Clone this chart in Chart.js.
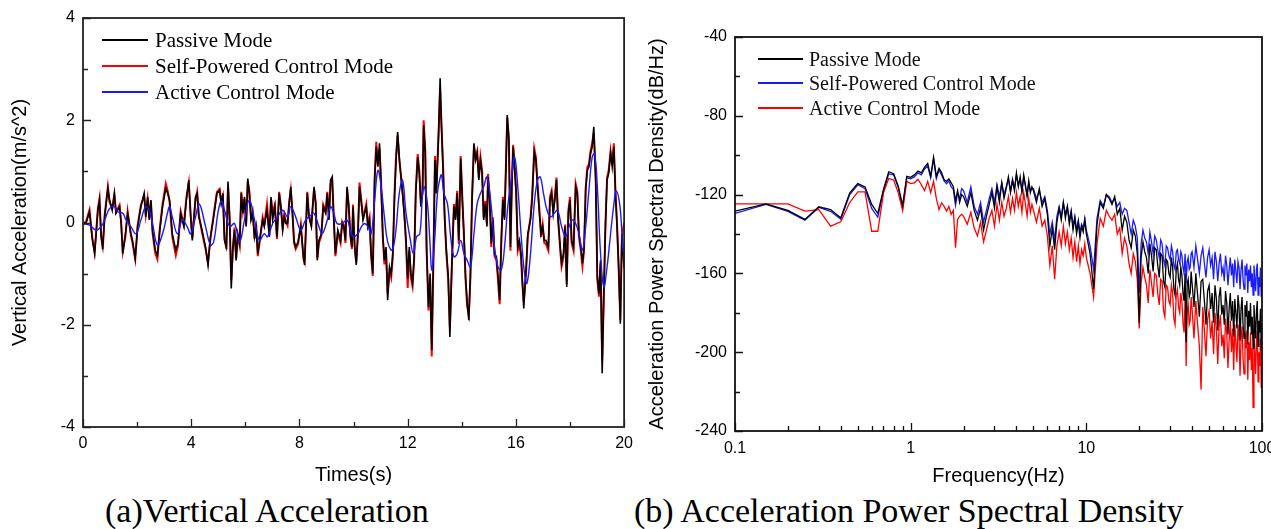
<!DOCTYPE html>
<html>
<head>
<meta charset="utf-8">
<script src="https://cdn.jsdelivr.net/npm/chart.js@4.4.1/dist/chart.umd.min.js"></script>
<style>
  html, body { margin:0; padding:0; background:#fff; }
  body { width:1271px; height:529px; overflow:hidden; position:relative; }
  canvas { position:absolute; top:0; }
  .lg { position:absolute; font-family:"Liberation Serif", serif; color:#000; white-space:nowrap; }
  .lg .row { position:absolute; left:0; height:0; }
  .lg .ln { position:absolute; top:-1px; height:2px; }
  .lg .tx { position:absolute; transform:translateY(-50%); line-height:1; }
  .cap { position:absolute; top:493px; font-family:"Liberation Serif", serif; font-size:34px; line-height:36px; color:#000; white-space:nowrap; }
</style>
</head>
<body>
<canvas id="c1" width="640" height="490" style="left:0"></canvas>
<canvas id="c2" width="660" height="490" style="left:640px"></canvas>

<div class="lg" style="left:102px;top:0;font-size:21px">
  <div class="row" style="top:40px"><div class="ln" style="left:0;width:46px;background:#000"></div><div class="tx" style="left:53px">Passive Mode</div></div>
  <div class="row" style="top:66px"><div class="ln" style="left:0;width:46px;background:#ff0000"></div><div class="tx" style="left:53px">Self-Powered Control Mode</div></div>
  <div class="row" style="top:92px"><div class="ln" style="left:0;width:46px;background:#1a1aff"></div><div class="tx" style="left:53px">Active Control Mode</div></div>
</div>

<div class="lg" style="left:758px;top:0;font-size:20px;color:#111">
  <div class="row" style="top:59px"><div class="ln" style="left:0;width:45px;background:#000"></div><div class="tx" style="left:51px">Passive Mode</div></div>
  <div class="row" style="top:83px"><div class="ln" style="left:0;width:45px;background:#1a1aff"></div><div class="tx" style="left:51px">Self-Powered Control Mode</div></div>
  <div class="row" style="top:108px"><div class="ln" style="left:0;width:45px;background:#ff0000"></div><div class="tx" style="left:51px">Active Control Mode</div></div>
</div>

<div class="cap" style="left:105px">(a)Vertical Acceleration</div>
<div class="cap" style="left:634px">(b) Acceleration Power Spectral Density</div>

<script>
// ---------------- (a) time histories ----------------
const passiveT = [
  0, 0.12, 0.24, 0.34, 0.43, 0.55, 0.61, 0.67, 0.73, 0.80,
  0.92, 0.98, 1.08, 1.16, 1.22, 1.35, 1.41, 1.47, 1.57, 1.65,
  1.77, 1.83, 1.93, 2.02, 2.14, 2.26, 2.32, 2.39, 2.45, 2.51,
  2.57, 2.67, 2.75, 2.84, 2.94, 3.06, 3.13, 3.20, 3.30, 3.43,
  3.51, 3.61, 3.73, 3.82, 3.91, 3.98, 4.04, 4.16, 4.22, 4.28,
  4.40, 4.53, 4.62, 4.71, 4.83, 4.95, 5.05, 5.11, 5.17, 5.23,
  5.30, 5.36, 5.42, 5.48, 5.54, 5.60, 5.66, 5.72, 5.79, 5.85,
  5.91, 5.97, 6.03, 6.09, 6.15, 6.21, 6.27, 6.34, 6.40, 6.46,
  6.56, 6.64, 6.70, 6.80, 6.89, 6.95, 7.01, 7.09, 7.17, 7.25,
  7.31, 7.38, 7.44, 7.50, 7.56, 7.62, 7.68, 7.74, 7.80, 7.86,
  7.95, 8.05, 8.15, 8.19, 8.29, 8.35, 8.44, 8.54, 8.60, 8.66,
  8.72, 8.81, 8.88, 8.97, 9.03, 9.09, 9.15, 9.21, 9.27, 9.33,
  9.42, 9.52, 9.58, 9.64, 9.70, 9.76, 9.82, 9.88, 9.94, 9.98,
  10.04, 10.10, 10.16, 10.22, 10.29, 10.35, 10.41, 10.47, 10.53, 10.59,
  10.65, 10.71, 10.78, 10.84, 10.90, 10.96, 11.02, 11.08, 11.14, 11.20,
  11.26, 11.33, 11.39, 11.45, 11.51, 11.57, 11.63, 11.69, 11.75, 11.81,
  11.88, 11.94, 12.00, 12.06, 12.12, 12.18, 12.24, 12.30, 12.37, 12.43,
  12.49, 12.55, 12.59, 12.65, 12.70, 12.77, 12.83, 12.89, 12.95, 13.01,
  13.06, 13.14, 13.20, 13.25, 13.31, 13.37, 13.43, 13.50, 13.56, 13.63,
  13.71, 13.77, 13.83, 13.89, 13.96, 14.02, 14.08, 14.14, 14.20, 14.26,
  14.32, 14.38, 14.45, 14.51, 14.57, 14.63, 14.69, 14.75, 14.81, 14.87,
  14.93, 14.97, 15.03, 15.09, 15.15, 15.21, 15.28, 15.34, 15.40, 15.46,
  15.52, 15.58, 15.64, 15.68, 15.74, 15.80, 15.85, 15.90, 15.95, 16.01,
  16.07, 16.13, 16.19, 16.24, 16.29, 16.38, 16.44, 16.54, 16.60, 16.68,
  16.74, 16.80, 16.87, 16.93, 16.99, 17.05, 17.11, 17.20, 17.26, 17.32,
  17.38, 17.44, 17.50, 17.56, 17.64, 17.69, 17.76, 17.82, 17.88, 17.94,
  18.00, 18.06, 18.13, 18.21, 18.27, 18.33, 18.40, 18.46, 18.52, 18.58,
  18.64, 18.70, 18.76, 18.82, 18.88, 18.95, 19.01, 19.07, 19.13, 19.19,
  19.25, 19.31, 19.37, 19.43, 19.50, 19.56, 19.62, 19.68, 19.74, 19.80,
  19.86, 19.92, 20.00
];
const passiveV = [
  -0.02, 0.00, 0.21, -0.31, -0.61, 0.24, 0.44, -0.28, -0.48, 0.11,
  0.67, 0.44, 0.24, 0.57, 0.18, 0.31, -0.02, -0.61, -0.22, 0.18,
  -0.22, -0.35, -0.70, -0.08, 0.31, 0.57, 0.11, 0.50, 0.05, 0.44,
  -0.15, -0.54, -0.64, -0.15, 0.31, 0.67, 0.57, 0.44, -0.22, -0.54,
  -0.41, 0.18, -0.08, 0.44, 0.83, 0.11, -0.35, 0.50, 0.57, 0.11,
  -0.15, -0.48, -0.83, -0.28, 0.11, 0.57, 0.63, 0.37, 0.57, -0.35,
  -0.48, 0.80, 0.05, -1.29, -0.48, -0.15, -0.74, -0.22, -0.41, 0.57,
  0.18, 0.50, -0.08, 0.86, 0.57, 0.05, 0.18, -0.28, -0.08, -0.61,
  -0.22, 0.05, -0.08, 0.24, -0.28, 0.50, 0.05, 0.31, -0.28, 0.57,
  0.31, -0.15, 0.11, -0.02, -0.02, 0.37, 0.70, 0.18, -0.35, -0.48,
  -0.38, -0.08, -0.67, -0.83, 0.57, 0.11, -0.08, 0.70, 0.37, -0.74,
  -0.35, -0.22, 0.31, 0.18, 0.57, 0.05, 0.83, 0.89, 0.05, -0.61,
  -0.15, -0.35, -0.02, -0.08, -0.35, 0.70, 0.31, -0.22, -0.48, 0.31,
  -0.48, -0.83, -0.22, 0.70, 0.37, 0.05, 0.18, 0.31, -0.08, 0.05,
  -0.61, -1.00, 0.83, 1.48, 1.09, 1.55, 0.70, -0.22, -0.74, -0.48,
  -1.52, -0.87, -1.00, -0.61, 0.44, 1.22, 1.77, 1.28, 0.89, 0.57,
  0.11, -0.35, -1.10, -0.48, -1.00, -1.19, -0.67, 0.57, 1.28, 0.96,
  0.31, 0.57, 1.90, 1.35, -0.48, -1.65, -1.00, -2.50, -0.74, 1.22,
  0.57, 1.68, 2.82, 1.87, 1.02, 0.05, -0.54, -1.06, -2.24, -0.87,
  0.31, 0.05, 0.57, -0.35, 1.25, 0.44, -0.22, -1.06, -1.58, -1.91,
  -1.00, 0.44, 1.55, 1.22, 1.35, 0.83, 1.22, 0.96, 0.05, 0.37,
  -0.08, 0.89, 0.44, -0.41, 0.05, -0.61, -0.67, -1.06, -1.52, -0.35,
  0.44, 0.05, 1.22, 2.10, 1.61, -0.48, 0.70, 1.48, 1.09, 0.57,
  -0.48, -0.35, -0.61, -1.13, -1.68, -0.87, -0.22, 0.05, 0.44, 1.38,
  1.22, 0.70, 0.18, -0.22, -0.08, -0.35, -0.35, -0.48, 0.44, 0.57,
  0.18, 0.44, 0.83, 0.05, -0.48, -0.80, -0.61, -0.08, -1.26, 0.18,
  0.44, -0.35, -0.48, 0.70, 0.57, -0.22, -0.48, -0.80, -0.48, 0.63,
  1.02, 1.09, 1.35, 1.48, 1.87, 0.83, -1.06, -1.39, -0.74, -2.95,
  -1.39, -0.08, 0.83, 0.96, 1.35, 1.09, 1.48, 0.57, -0.08, -0.87,
  -1.98, -0.22, -0.90
];
const selfV = [
  -0.05, 0.03, 0.25, -0.28, -0.58, 0.27, 0.47, -0.25, -0.52, 0.14,
  0.70, 0.40, 0.28, 0.55, 0.20, 0.34, 0.02, -0.57, -0.26, 0.22,
  -0.25, -0.40, -0.72, -0.05, 0.34, 0.53, 0.15, 0.46, 0.08, 0.42,
  -0.20, -0.60, -0.72, -0.10, 0.36, 0.76, 0.62, 0.40, -0.28, -0.64,
  -0.45, 0.22, -0.04, 0.48, 0.78, 0.15, -0.30, 0.46, 0.60, 0.16,
  -0.20, -0.52, -0.78, -0.32, 0.16, 0.60, 0.66, 0.40, 0.52, -0.30,
  -0.52, 0.72, 0.10, -1.12, -0.52, -0.10, -0.70, -0.26, -0.45, 0.60,
  0.22, 0.46, -0.04, 0.80, 0.60, 0.10, 0.22, -0.32, -0.04, -0.66,
  -0.26, 0.10, -0.04, 0.36, -0.24, 0.46, 0.20, 0.35, -0.32, 0.60,
  0.35, -0.10, 0.16, 0.02, -0.06, 0.40, 0.64, 0.22, -0.40, -0.52,
  -0.42, -0.04, -0.72, -0.78, 0.60, 0.15, -0.04, 0.66, 0.40, -0.70,
  -0.40, -0.26, 0.35, 0.22, 0.60, 0.10, 0.75, 0.85, 0.10, -0.66,
  -0.20, -0.40, 0.02, -0.04, -0.40, 0.66, 0.35, -0.26, -0.52, 0.35,
  -0.44, -0.78, -0.26, 0.78, 0.42, 0.10, 0.22, 0.36, -0.04, 0.10,
  -0.66, -1.05, 0.88, 1.58, 1.14, 1.45, 0.76, -0.28, -0.82, -0.55,
  -1.40, -0.95, -1.08, -0.68, 0.50, 1.30, 1.70, 1.22, 0.95, 0.62,
  0.16, -0.42, -1.28, -0.55, -1.08, -1.25, -0.72, 0.62, 1.34, 1.02,
  0.36, 0.62, 2.00, 1.42, -0.55, -1.72, -1.08, -2.62, -0.80, 1.30,
  0.62, 1.72, 2.60, 1.92, 1.08, 0.10, -0.60, -1.12, -2.05, -0.92,
  0.36, 0.10, 0.62, -0.42, 1.30, 0.50, -0.28, -1.12, -1.64, -1.80,
  -1.08, 0.50, 1.50, 1.28, 1.40, 0.88, 1.28, 1.02, 0.10, 0.42,
  -0.04, 0.95, 0.50, -0.48, 0.10, -0.66, -0.74, -1.12, -1.60, -0.42,
  0.50, 0.10, 1.28, 2.05, 1.66, -0.55, 0.76, 1.52, 1.14, 0.62,
  -0.55, -0.42, -0.68, -1.20, -1.55, -0.95, -0.28, 0.10, 0.50, 1.45,
  1.28, 0.76, 0.24, -0.28, -0.04, -0.40, -0.42, -0.55, 0.50, 0.62,
  0.24, 0.50, 0.88, 0.10, -0.55, -0.86, -0.68, -0.04, -1.20, 0.24,
  0.50, -0.40, -0.55, 0.76, 0.62, -0.28, -0.55, -0.86, -0.55, 0.68,
  1.08, 1.14, 1.40, 1.55, 1.75, 0.88, -1.12, -1.45, -0.80, -2.70,
  -1.45, -0.04, 0.88, 1.02, 1.40, 1.14, 1.55, 0.62, -0.04, -0.92,
  -1.90, -0.28, 0.00
];
const activeT = [
  0, 0.24, 0.49, 0.67, 0.80, 0.98, 1.16, 1.28, 1.47, 1.59,
  1.77, 1.96, 2.14, 2.32, 2.45, 2.57, 2.75, 2.94, 3.12, 3.20,
  3.30, 3.49, 3.67, 3.85, 3.98, 4.16, 4.30, 4.53, 4.71, 4.83,
  4.99, 5.11, 5.23, 5.42, 5.60, 5.79, 5.97, 6.15, 6.34, 6.52,
  6.70, 6.82, 7.01, 7.19, 7.38, 7.56, 7.68, 7.86, 8.05, 8.23,
  8.42, 8.54, 8.72, 8.84, 9.03, 9.15, 9.27, 9.39, 9.58, 9.76,
  9.88, 9.98, 10.16, 10.29, 10.41, 10.53, 10.65, 10.78, 10.90, 11.02,
  11.14, 11.26, 11.42, 11.55, 11.69, 11.81, 11.94, 12.08, 12.21, 12.33,
  12.45, 12.55, 12.61, 12.73, 12.82, 12.89, 12.98, 13.10, 13.18, 13.25,
  13.34, 13.47, 13.59, 13.71, 13.83, 13.96, 14.08, 14.20, 14.32, 14.45,
  14.57, 14.69, 14.81, 14.93, 15.09, 15.21, 15.34, 15.46, 15.58, 15.70,
  15.83, 15.95, 16.07, 16.19, 16.32, 16.41, 16.54, 16.68, 16.80, 16.90,
  17.02, 17.15, 17.29, 17.42, 17.54, 17.69, 17.84, 17.97, 18.09, 18.21,
  18.33, 18.46, 18.58, 18.70, 18.82, 18.91, 19.01, 19.13, 19.25, 19.37,
  19.50, 19.62, 19.71, 19.85, 19.95, 20.00
];
const activeV = [
  -0.02, -0.05, -0.15, -0.08, 0.05, 0.27, 0.31, 0.21, 0.18, 0.05,
  -0.08, -0.22, 0.05, 0.31, 0.24, -0.02, -0.44, -0.22, 0.18, 0.31,
  0.11, -0.22, 0.05, -0.08, -0.22, 0.11, 0.36, -0.08, -0.44, -0.38,
  0.20, 0.42, 0.24, -0.08, -0.02, -0.38, 0.05, 0.44, 0.05, -0.35,
  -0.22, -0.28, -0.02, 0.11, 0.24, 0.11, 0.31, 0.11, -0.15, 0.05,
  0.14, 0.18, -0.08, -0.22, 0.05, 0.31, 0.18, -0.02, -0.02, 0.05,
  -0.15, -0.28, -0.22, -0.08, -0.02, -0.08, -0.22, 0.44, 1.02, 0.70,
  0.11, -0.38, -0.54, -0.22, 0.57, 0.83, 0.18, -0.28, -0.61, -0.28,
  -0.22, 0.57, 0.70, 0.37, -0.35, -0.93, -0.48, 0.57, 0.83, 0.93,
  0.57, 0.37, -0.28, -0.67, -0.61, -0.35, -0.61, -0.74, -0.87, -0.22,
  0.37, 0.57, 0.70, 0.89, 0.31, -0.48, -0.87, -0.93, -0.48, 0.31,
  0.83, 1.28, 0.70, -0.22, -1.00, -1.19, -0.61, 0.37, 0.83, 0.89,
  0.57, 0.24, 0.11, 0.18, 0.24, -0.08, -0.28, -0.08, 0.05, -0.02,
  -0.22, -0.54, -0.08, 0.63, 1.28, 1.35, 0.70, -0.61, -1.26, -0.87,
  -0.22, 0.35, 0.62, 0.30, -0.50, -0.65
];
const timeMajorTicks = [0, 4, 8, 12, 16, 20];
const timeMinorTicks = [2, 6, 10, 14, 18];
const accMajorTicks = [-4, -2, 0, 2, 4];
const accMinorTicks = [-3, -1, 1, 3];

// ---------------- (b) power spectral density ----------------
const freqHz = [
  0.10, 0.15, 0.20, 0.25, 0.30, 0.35, 0.40, 0.45, 0.50, 0.55,
  0.60, 0.65, 0.70, 0.75, 0.80, 0.85, 0.90, 0.95, 1.00, 1.05,
  1.10, 1.15, 1.20, 1.25, 1.30, 1.35, 1.40, 1.45, 1.50, 1.55,
  1.60, 1.65, 1.70, 1.75, 1.80, 1.85, 1.90, 1.95,
  2.0, 2.1, 2.2, 2.3, 2.4, 2.5, 2.6, 2.7, 2.8, 2.9,
  3.0, 3.1, 3.2, 3.3, 3.4, 3.5, 3.6, 3.7, 3.8, 3.9,
  4.0, 4.1, 4.2, 4.3, 4.4, 4.5, 4.6, 4.7, 4.8, 4.9,
  5.0, 5.2, 5.4, 5.6, 5.8, 6.0, 6.2, 6.4, 6.6, 6.8,
  7.0, 7.2, 7.4, 7.6, 7.8, 8.0, 8.2, 8.4, 8.6, 8.8,
  9.0, 9.2, 9.4, 9.6, 9.8,
  10, 10.5, 11, 11.5, 12, 12.5, 13, 13.5, 14, 14.5,
  15, 15.5, 16, 16.5, 17, 17.5, 18, 18.5, 19, 19.5,
  20, 20.5, 21, 21.5, 22, 22.5, 23, 23.5, 24, 24.5,
  25, 25.5, 26, 26.5, 27, 27.5, 28, 28.5, 29, 29.5,
  30, 30.5, 31, 31.5, 32, 32.5, 33, 33.5, 34, 34.5,
  35, 35.5, 36, 36.5, 37, 37.5, 38, 38.5, 39, 39.5,
  40, 41, 42, 43, 44, 45, 46, 47, 48, 49,
  50, 51, 52, 53, 54, 55, 56, 57, 58, 59,
  60, 61, 62, 63, 64, 65, 66, 67, 68, 69,
  70, 71, 72, 73, 74, 75, 76, 77, 78, 79,
  80, 81, 82, 83, 84, 85, 86, 87, 88, 89,
  90, 91, 92, 93, 94, 95, 96, 97, 98, 99,
  100
];
const passivePSD = [
  -128.4, -124.7, -128.0, -132.6, -126.2, -127.6, -131.8, -119.1, -114.4, -116.1,
  -125.0, -129.6, -117.4, -108.4, -109.4, -115.7, -125.5, -110.7, -111.2, -110.0,
  -108.1, -109.0, -106.0, -104.2, -110.7, -101.0, -110.7, -106.6, -108.8, -112.4,
  -113.3, -112.0, -114.0, -116.0, -123.3, -118.0, -124.0, -120.0,
  -121, -126, -119, -128, -133, -127, -138, -131, -125, -119,
  -127, -116, -124, -114, -122, -117, -111, -119, -113, -118,
  -109, -116, -111, -119, -110, -115, -121, -113, -119, -116,
  -118, -124, -117, -126, -122, -130, -146, -137, -148, -134,
  -127, -133, -124, -132, -126, -135, -129, -138, -132, -140,
  -134, -142, -136, -139, -133,
  -140, -150, -168, -135, -124, -127, -120, -122, -125, -121,
  -130, -127, -138, -131, -134, -143, -147, -138, -141, -150,
  -185, -152, -144, -149, -152, -160, -145, -151, -159, -147,
  -148, -156, -162, -150, -151, -164, -167, -153, -154, -160,
  -162, -152, -157, -168, -171, -158, -155, -163, -166, -157,
  -161, -170, -174, -160, -195, -165, -163, -172, -170, -159,
  -165, -177, -160, -171, -182, -164, -163, -174, -186, -169,
  -166, -178, -170, -185, -166, -173, -189, -172, -167, -181,
  -176, -186, -169, -175, -191, -178, -170, -184, -174, -192,
  -173, -180, -188, -171, -177, -194, -178, -172, -186, -193,
  -176, -182, -174, -196, -179, -187, -175, -191, -182, -198,
  -176, -185, -193, -179, -174, -197, -184, -190, -178, -199,
  -186
];
const selfPSD = [
  -129.5, -125.0, -128.5, -133.0, -126.5, -128.5, -132.5, -120.0, -115.0, -117.0,
  -127.0, -131.5, -118.5, -109.5, -110.0, -116.5, -127.0, -111.5, -112.0, -111.0,
  -109.0, -110.0, -107.0, -105.5, -111.5, -102.0, -112.0, -107.5, -110.0, -113.0,
  -114.5, -113.0, -116.0, -117.5, -125.5, -119.0, -122.0, -117.0,
  -118, -124, -116, -126, -130, -124, -134, -128, -122, -117,
  -124, -115, -121, -114, -120, -116, -112, -118, -112, -117,
  -110, -115, -112, -118, -111, -116, -120, -114, -118, -117,
  -117, -122, -118, -124, -121, -128, -140, -134, -143, -131,
  -126, -131, -124, -130, -126, -133, -128, -136, -131, -138,
  -133, -139, -135, -137, -132,
  -138, -146, -158, -132, -123, -126, -120, -121, -124, -122,
  -126, -124, -130, -127, -128, -134, -140, -133, -136, -142,
  -170, -145, -138, -142, -144, -150, -139, -144, -150, -141,
  -143, -148, -152, -143, -145, -153, -156, -146, -147, -151,
  -153, -146, -149, -156, -158, -149, -148, -153, -155, -149,
  -151, -157, -160, -150, -165, -154, -152, -158, -157, -150,
  -149, -157, -146, -153, -160, -151, -147, -155, -162, -152,
  -148, -156, -152, -163, -149, -154, -164, -155, -150, -160,
  -157, -164, -151, -156, -166, -158, -152, -161, -155, -167,
  -153, -159, -165, -154, -157, -168, -158, -153, -163, -168,
  -156, -161, -155, -170, -158, -164, -156, -167, -160, -171,
  -156, -163, -169, -158, -155, -171, -162, -167, -157, -172,
  -165
];
const activePSD = [
  -124.7, -124.7, -124.7, -128.4, -127.6, -136.0, -133.8, -124.0, -118.6, -118.6,
  -138.6, -138.6, -119.1, -111.8, -112.6, -119.1, -128.1, -113.3, -114.4, -114.0,
  -112.2, -115.0, -118.0, -113.3, -119.0, -113.3, -122.0, -127.6, -124.2, -126.0,
  -128.4, -126.0, -130.0, -128.0, -147.0, -132.6, -131.0, -130.0,
  -131, -135, -129, -137, -141, -134, -144, -138, -132, -128,
  -136, -125, -133, -124, -131, -127, -121, -129, -122, -128,
  -119, -126, -121, -129, -119, -125, -131, -122, -129, -125,
  -128, -134, -127, -136, -133, -141, -156, -146, -163, -146,
  -139, -146, -136, -145, -139, -148, -142, -152, -144, -154,
  -146, -155, -148, -151, -145,
  -152, -160, -172, -145, -132, -136, -128, -131, -133, -130,
  -140, -137, -150, -142, -146, -155, -160, -150, -154, -163,
  -188, -165, -157, -162, -166, -175, -158, -165, -172, -160,
  -161, -170, -176, -163, -164, -179, -182, -166, -167, -174,
  -176, -166, -170, -183, -186, -171, -168, -177, -180, -170,
  -174, -185, -190, -173, -207, -179, -176, -186, -184, -172,
  -178, -193, -174, -186, -197, -219, -177, -189, -202, -183,
  -179, -193, -184, -201, -180, -188, -206, -187, -181, -197,
  -191, -203, -183, -190, -208, -194, -184, -200, -188, -209,
  -186, -195, -205, -186, -192, -212, -193, -187, -203, -211,
  -190, -198, -189, -214, -195, -204, -190, -209, -198, -228,
  -191, -201, -211, -194, -189, -215, -200, -207, -193, -218,
  -203
];
const freqMajorTicks = [0.1, 1, 10, 100];
const freqMinorTicks = [0.2,0.3,0.4,0.5,0.6,0.7,0.8,0.9, 2,3,4,5,6,7,8,9, 20,30,40,50,60,70,80,90];
const psdMajorTicks = [-240, -200, -160, -120, -80, -40];
const psdMinorTicks = [-220, -180, -140, -100, -60];

// ---------------- helpers ----------------
const pts = (xs, ys) => xs.map((x, i) => ({ x: x, y: ys[i] }));

const frameTicks = {
  id: 'frameTicks',
  afterDatasetsDraw(chart, args, o) {
    const { ctx, chartArea: a, scales } = chart;
    ctx.save();
    ctx.strokeStyle = o.color;
    ctx.lineWidth = o.tickWidth;
    ctx.beginPath();
    const xt = (list, len) => list.forEach(v => {
      const p = Math.round(scales.x.getPixelForValue(v)) + 0.5;
      ctx.moveTo(p, a.bottom); ctx.lineTo(p, a.bottom - len);
    });
    const yt = (list, len) => list.forEach(v => {
      const p = Math.round(scales.y.getPixelForValue(v)) + 0.5;
      ctx.moveTo(a.left, p); ctx.lineTo(a.left + len, p);
    });
    xt(o.xMajor, o.majorLen); xt(o.xMinor, o.minorLen);
    yt(o.yMajor, o.majorLen); yt(o.yMinor, o.minorLen);
    ctx.stroke();
    ctx.lineWidth = o.frameWidth;
    ctx.strokeRect(a.left, a.top, a.right - a.left, a.bottom - a.top);
    ctx.restore();
  }
};

const tickFont = { family: 'Liberation Sans', size: 16 };
const titleFont = { family: 'Liberation Sans', size: 20 };

// ---------------- chart (a) ----------------
new Chart(document.getElementById('c1'), {
  type: 'line',
  data: {
    datasets: [
      { label: 'Active Control Mode', data: pts(activeT, activeV), borderColor: '#1a1aff', borderWidth: 1.4, tension: 0.4 },
      { label: 'Passive Mode', data: pts(passiveT, passiveV), borderColor: '#000000', borderWidth: 1.6, tension: 0 },
      { label: 'Self-Powered Control Mode', data: pts(passiveT, selfV), borderColor: '#ff0000', borderWidth: 2, tension: 0 }
    ]
  },
  options: {
    responsive: false, animation: false, devicePixelRatio: 1,
    layout: { padding: { left: 0, top: 18, right: 12, bottom: 0 } },
    elements: { point: { radius: 0 } },
    plugins: {
      legend: { display: false }, tooltip: { enabled: false },
      frameTicks: { color: '#222', tickWidth: 1.3, frameWidth: 1.8, majorLen: 8, minorLen: 5,
        xMajor: timeMajorTicks, xMinor: timeMinorTicks, yMajor: accMajorTicks, yMinor: accMinorTicks }
    },
    scales: {
      x: {
        type: 'linear', min: 0, max: 20,
        afterFit(s) { s.height = 63; },
        ticks: { stepSize: 4, autoSkip: false, maxRotation: 0, padding: 7, color: '#000', font: tickFont },
        grid: { display: false, drawTicks: false }, border: { display: false },
        title: { display: true, text: 'Times(s)', color: '#000', font: titleFont, padding: { top: 0, bottom: 3 } }
      },
      y: {
        type: 'linear', min: -4, max: 4,
        afterFit(s) { s.width = 83; },
        ticks: { stepSize: 2, padding: 8, color: '#000', font: tickFont },
        grid: { display: false, drawTicks: false }, border: { display: false },
        title: { display: true, text: 'Vertical Acceleration(m/s^2)', color: '#000', font: titleFont, padding: { top: 8, bottom: 0 } }
      }
    }
  },
  plugins: [frameTicks]
});

// ---------------- chart (b) ----------------
const isDecade = v => Math.abs(Math.log10(v) - Math.round(Math.log10(v))) < 1e-6;
new Chart(document.getElementById('c2'), {
  type: 'line',
  data: {
    datasets: [
      { label: 'Passive Mode', data: pts(freqHz, passivePSD), borderColor: '#000000', borderWidth: 1.3, tension: 0 },
      { label: 'Active Control Mode', data: pts(freqHz, activePSD), borderColor: '#ff0000', borderWidth: 1.3, tension: 0 },
      { label: 'Self-Powered Control Mode', data: pts(freqHz, selfPSD), borderColor: '#1a1aff', borderWidth: 1.3, tension: 0 }
    ]
  },
  options: {
    responsive: false, animation: false, devicePixelRatio: 1,
    layout: { padding: { left: 0, top: 37, right: 38, bottom: 0 } },
    elements: { point: { radius: 0 } },
    plugins: {
      legend: { display: false }, tooltip: { enabled: false },
      frameTicks: { color: '#111', tickWidth: 1.3, frameWidth: 1.8, majorLen: 8, minorLen: 5,
        xMajor: freqMajorTicks, xMinor: freqMinorTicks, yMajor: psdMajorTicks, yMinor: psdMinorTicks }
    },
    scales: {
      x: {
        type: 'logarithmic', min: 0.1, max: 100,
        afterFit(s) { s.height = 59; },
        ticks: { autoSkip: false, maxRotation: 0, padding: 8, color: '#000', font: tickFont,
          callback: v => isDecade(v) ? (v < 1 ? '0.1' : String(Math.round(v))) : '' },
        grid: { display: false, drawTicks: false }, border: { display: false },
        title: { display: true, text: 'Frequency(Hz)', color: '#000', font: titleFont, padding: { top: 0, bottom: 2 } }
      },
      y: {
        type: 'linear', min: -240, max: -40,
        afterFit(s) { s.width = 95; },
        ticks: { stepSize: 40, padding: 8, color: '#000', font: tickFont },
        grid: { display: false, drawTicks: false }, border: { display: false },
        title: { display: true, text: 'Acceleration Power Spectral Density(dB/Hz)', color: '#000', font: titleFont, padding: { top: 5, bottom: 0 } }
      }
    }
  },
  plugins: [frameTicks]
});
</script>
</body>
</html>
